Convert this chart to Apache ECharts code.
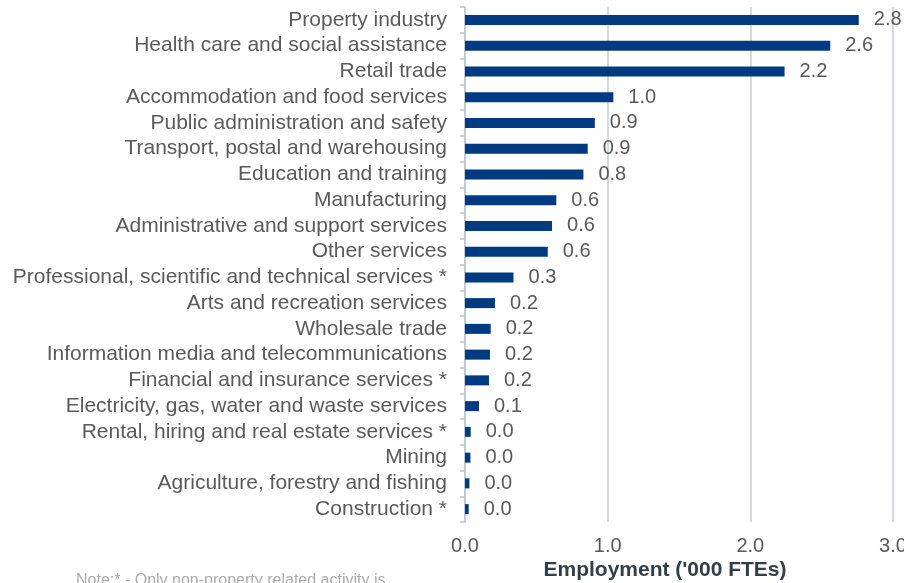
<!DOCTYPE html>
<html>
<head>
<meta charset="utf-8">
<script src="https://cdn.jsdelivr.net/npm/echarts@6/dist/echarts.min.js"></script>
<style>html,body{margin:0;padding:0;background:#fff;overflow:hidden;}#c{width:904px;height:583px;}</style>
</head>
<body>
<div id="c"></div>
<script>
const categories = [
  "Property industry",
  "Health care and social assistance",
  "Retail trade",
  "Accommodation and food services",
  "Public administration and safety",
  "Transport, postal and warehousing",
  "Education and training",
  "Manufacturing",
  "Administrative and support services",
  "Other services",
  "Professional, scientific and technical services *",
  "Arts and recreation services",
  "Wholesale trade",
  "Information media and telecommunications",
  "Financial and insurance services *",
  "Electricity, gas, water and waste services",
  "Rental, hiring and real estate services *",
  "Mining",
  "Agriculture, forestry and fishing",
  "Construction *"
];
const employment = [2.76, 2.56, 2.24, 1.04, 0.91, 0.86, 0.83, 0.64, 0.61, 0.58, 0.34, 0.21, 0.18, 0.175, 0.168, 0.098, 0.04, 0.038, 0.031, 0.026];
const xTicks = { min: 0, max: 3, interval: 1 };
const axisTitle = "Employment ('000 FTEs)";
const noteText = "Note:* - Only non-property related activity is";

const FONT = 'Liberation Sans, Arial, sans-serif';
const chart = echarts.init(document.getElementById('c'));
chart.setOption({
  animation: false,
  backgroundColor: '#ffffff',
  grid: { left: 465, right: 11, top: 7, bottom: 61, containLabel: false, outerBoundsMode: 'none' },
  xAxis: {
    type: 'value', min: xTicks.min, max: xTicks.max, interval: xTicks.interval,
    axisLine: { show: false }, axisTick: { show: false },
    splitLine: { show: true, lineStyle: { color: '#c5ced6', width: 1.5 } },
    axisLabel: { formatter: v => v.toFixed(1), color: '#595959', fontSize: 20, fontFamily: FONT, margin: 14 }
  },
  yAxis: {
    type: 'category', data: categories, inverse: true,
    axisLine: { show: true, lineStyle: { color: '#b9c5cf', width: 1.5 } },
    axisTick: { show: true, length: 5, lineStyle: { color: '#b9c5cf', width: 1.5 } },
    axisLabel: { interval: 0, color: '#5a5a5a', fontSize: 21, fontFamily: FONT, margin: 18 }
  },
  series: [{
    type: 'bar', data: employment, barWidth: 10,
    itemStyle: { color: '#003a80' },
    label: { show: true, position: 'right', distance: 15, formatter: p => p.value.toFixed(1),
      color: '#595959', fontSize: 20, fontFamily: FONT }
  }],
  graphic: [{
    type: 'text', x: 665, y: 570,
    style: { text: axisTitle, fill: '#333f48', fontSize: 21, fontWeight: 'bold', fontFamily: FONT,
      textAlign: 'center', textVerticalAlign: 'middle' }
  }, {
    type: 'text', left: 76, top: 573,
    style: { text: noteText, fill: '#ababab', fontSize: 16, fontFamily: FONT }
  }]
});
</script>
</body>
</html>
